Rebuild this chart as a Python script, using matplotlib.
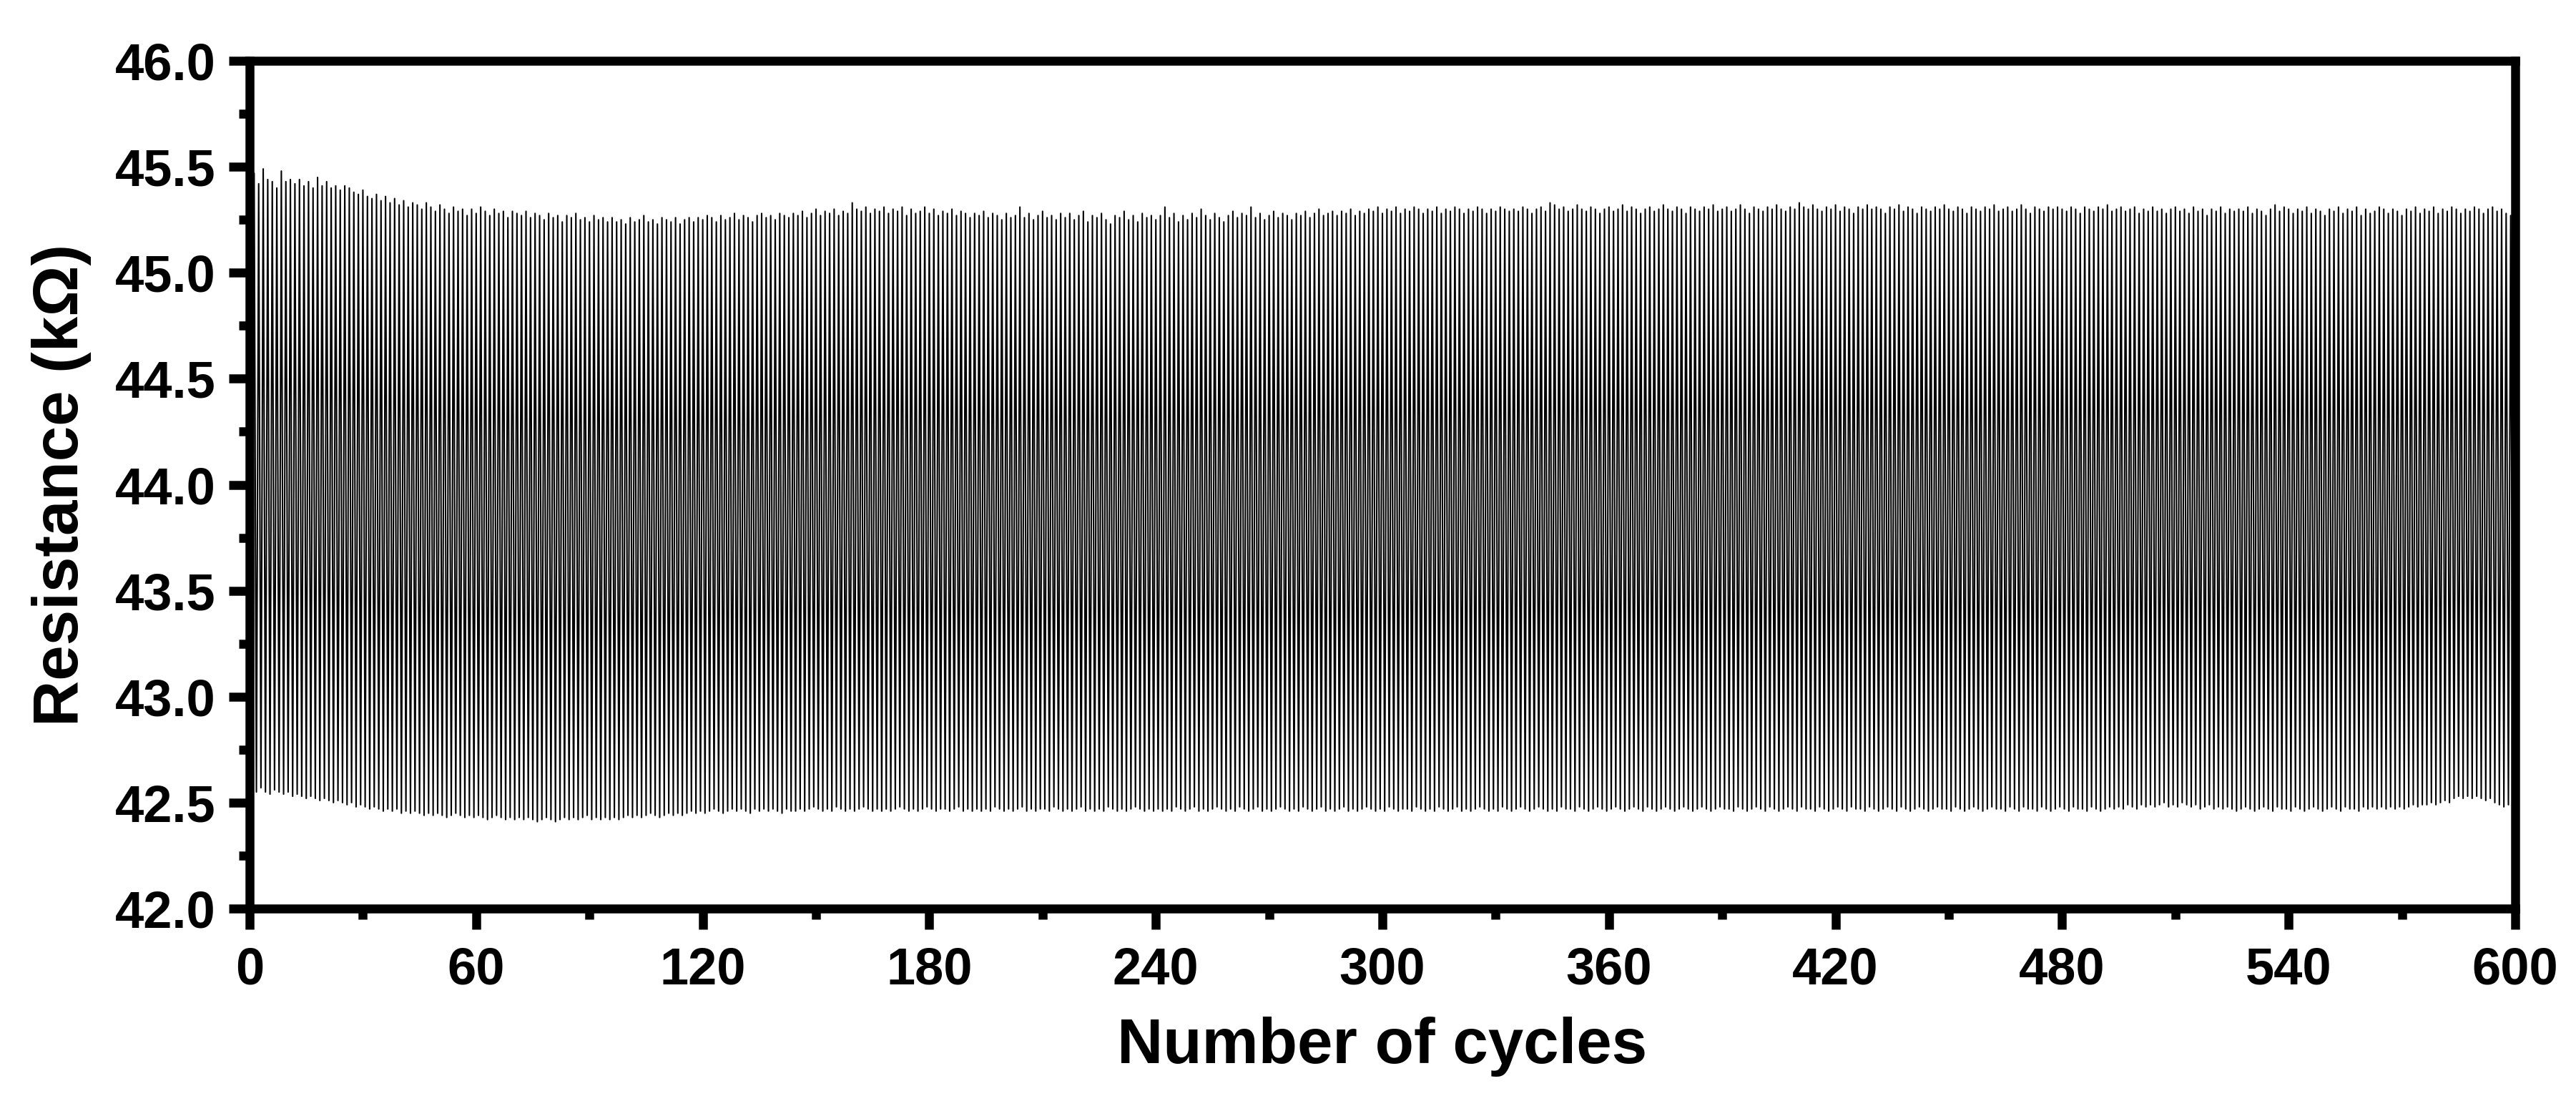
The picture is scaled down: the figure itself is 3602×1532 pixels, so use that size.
import numpy as np
import matplotlib
matplotlib.use("Agg")
import matplotlib.pyplot as plt
from matplotlib.ticker import MultipleLocator, FormatStrFormatter

# peak resistance of each cycle (kOhm), 20 cycles per row
peak_kohm = [
    45.34, 45.47, 45.42, 45.49, 45.44, 45.43, 45.40, 45.48, 45.43, 45.44, 45.42, 45.44, 45.41, 45.43, 45.40, 45.45, 45.41, 45.43, 45.40, 45.41,
    45.39, 45.41, 45.40, 45.38, 45.37, 45.39, 45.36, 45.35, 45.37, 45.34, 45.36, 45.33, 45.35, 45.32, 45.34, 45.31, 45.33, 45.32, 45.30, 45.33,
    45.31, 45.29, 45.32, 45.30, 45.28, 45.31, 45.29, 45.30, 45.27, 45.30, 45.28, 45.31, 45.29, 45.27, 45.30, 45.28, 45.29, 45.26, 45.29, 45.28,
    45.27, 45.29, 45.26, 45.28, 45.27, 45.25, 45.28, 45.26, 45.27, 45.24, 45.27, 45.26, 45.28, 45.25, 45.26, 45.24, 45.27, 45.25, 45.26, 45.24,
    45.26, 45.24, 45.25, 45.23, 45.26, 45.24, 45.25, 45.27, 45.24, 45.25, 45.23, 45.26, 45.25, 45.24, 45.26, 45.23, 45.25, 45.26, 45.24, 45.26,
    45.25, 45.27, 45.26, 45.24, 45.27, 45.25, 45.26, 45.28, 45.25, 45.27, 45.26, 45.24, 45.27, 45.28, 45.26, 45.27, 45.25, 45.28, 45.27, 45.26,
    45.28, 45.27, 45.29, 45.26, 45.28, 45.30, 45.27, 45.29, 45.28, 45.30, 45.27, 45.29, 45.28, 45.33, 45.30, 45.29, 45.31, 45.28, 45.30, 45.29,
    45.31, 45.28, 45.30, 45.29, 45.31, 45.27, 45.30, 45.28, 45.29, 45.31, 45.28, 45.30, 45.27, 45.29, 45.28, 45.30, 45.27, 45.29, 45.28, 45.26,
    45.28, 45.27, 45.29, 45.26, 45.28, 45.27, 45.25, 45.28, 45.26, 45.27, 45.31, 45.26, 45.28, 45.25, 45.27, 45.29, 45.26, 45.27, 45.25, 45.28,
    45.26, 45.28, 45.25, 45.27, 45.29, 45.24, 45.27, 45.26, 45.28, 45.25, 45.23, 45.27, 45.26, 45.29, 45.25, 45.27, 45.24, 45.28, 45.26, 45.27,
    45.25, 45.27, 45.31, 45.26, 45.28, 45.24, 45.27, 45.25, 45.28, 45.26, 45.30, 45.27, 45.25, 45.28, 45.26, 45.24, 45.27, 45.29, 45.26, 45.28,
    45.27, 45.31, 45.26, 45.28, 45.25, 45.27, 45.29, 45.26, 45.28, 45.27, 45.25, 45.28, 45.27, 45.29, 45.26, 45.28, 45.30, 45.27, 45.28, 45.29,
    45.27, 45.29, 45.28, 45.30, 45.27, 45.29, 45.28, 45.30, 45.29, 45.31, 45.28, 45.30, 45.29, 45.31, 45.28, 45.30, 45.29, 45.31, 45.30, 45.28,
    45.30, 45.29, 45.31, 45.28, 45.30, 45.29, 45.31, 45.30, 45.28, 45.30, 45.29, 45.31, 45.30, 45.28, 45.30, 45.29, 45.31, 45.30, 45.29, 45.30,
    45.29, 45.31, 45.30, 45.28, 45.30, 45.31, 45.29, 45.33, 45.32, 45.30, 45.31, 45.29, 45.30, 45.32, 45.30, 45.29, 45.31, 45.30, 45.28, 45.30,
    45.31, 45.29, 45.30, 45.32, 45.29, 45.31, 45.30, 45.28, 45.30, 45.31, 45.29, 45.30, 45.32, 45.30, 45.29, 45.31, 45.30, 45.28, 45.31, 45.30,
    45.29, 45.31, 45.30, 45.32, 45.29, 45.30, 45.31, 45.29, 45.30, 45.32, 45.30, 45.28, 45.31, 45.30, 45.29, 45.31, 45.30, 45.32, 45.30, 45.29,
    45.31, 45.30, 45.33, 45.31, 45.30, 45.32, 45.30, 45.29, 45.31, 45.30, 45.32, 45.29, 45.31, 45.30, 45.28, 45.31, 45.30, 45.32, 45.30, 45.31,
    45.30, 45.28, 45.31, 45.30, 45.32, 45.29, 45.31, 45.30, 45.28, 45.31, 45.30, 45.29, 45.31, 45.30, 45.32, 45.30, 45.29, 45.31, 45.30, 45.28,
    45.31, 45.30, 45.29, 45.31, 45.30, 45.32, 45.29, 45.30, 45.31, 45.29, 45.30, 45.32, 45.30, 45.28, 45.31, 45.30, 45.29, 45.31, 45.30, 45.31,
    45.30, 45.29, 45.31, 45.30, 45.28, 45.31, 45.30, 45.29, 45.31, 45.30, 45.32, 45.29, 45.30, 45.31, 45.29, 45.30, 45.31, 45.28, 45.30, 45.29,
    45.31, 45.29, 45.30, 45.28, 45.30, 45.31, 45.29, 45.30, 45.28, 45.31, 45.29, 45.30, 45.27, 45.30, 45.29, 45.31, 45.28, 45.30, 45.29, 45.30,
    45.29, 45.31, 45.28, 45.30, 45.29, 45.27, 45.30, 45.32, 45.29, 45.31, 45.30, 45.28, 45.30, 45.29, 45.31, 45.28, 45.30, 45.29, 45.27, 45.30,
    45.29, 45.31, 45.28, 45.30, 45.29, 45.31, 45.27, 45.30, 45.28, 45.29, 45.31, 45.30, 45.28, 45.30, 45.29, 45.27, 45.30, 45.29, 45.31, 45.28,
    45.30, 45.29, 45.31, 45.28, 45.30, 45.29, 45.31, 45.30, 45.28, 45.30, 45.29, 45.31, 45.30, 45.28, 45.30, 45.31, 45.29, 45.30, 45.28, 45.27,
]

# valley resistance of each cycle (kOhm), 20 cycles per row
valley_kohm = [
    42.56, 42.55, 42.57, 42.55, 42.54, 42.56, 42.55, 42.54, 42.55, 42.53, 42.54, 42.53, 42.52, 42.53, 42.52, 42.51, 42.52, 42.51, 42.50, 42.51,
    42.50, 42.49, 42.50, 42.48, 42.49, 42.48, 42.47, 42.48, 42.47, 42.46, 42.47, 42.46, 42.47, 42.45, 42.46, 42.45, 42.46, 42.45, 42.44, 42.45,
    42.44, 42.45, 42.44, 42.43, 42.44, 42.45, 42.44, 42.43, 42.44, 42.43, 42.44, 42.43, 42.42, 42.43, 42.44, 42.43, 42.42, 42.43, 42.42, 42.43,
    42.42, 42.43, 42.42, 42.41, 42.42, 42.43, 42.42, 42.41, 42.42, 42.43, 42.42, 42.43, 42.42, 42.43, 42.44, 42.42, 42.43, 42.42, 42.43, 42.42,
    42.43, 42.42, 42.43, 42.44, 42.43, 42.44, 42.43, 42.44, 42.45, 42.44, 42.43, 42.44, 42.45, 42.44, 42.45, 42.44, 42.45, 42.46, 42.45, 42.46,
    42.45, 42.46, 42.47, 42.46, 42.45, 42.46, 42.47, 42.46, 42.47, 42.46, 42.45, 42.47, 42.46, 42.47, 42.46, 42.47, 42.46, 42.45, 42.47, 42.46,
    42.46, 42.47, 42.46, 42.47, 42.48, 42.47, 42.46, 42.47, 42.46, 42.48, 42.47, 42.46, 42.47, 42.46, 42.47, 42.48, 42.47, 42.46, 42.47, 42.46,
    42.47, 42.46, 42.47, 42.48, 42.47, 42.46, 42.47, 42.46, 42.47, 42.48, 42.47, 42.46, 42.47, 42.47, 42.46, 42.47, 42.48, 42.46, 42.47, 42.46,
    42.47, 42.46, 42.47, 42.46, 42.48, 42.47, 42.46, 42.47, 42.46, 42.47, 42.48, 42.46, 42.47, 42.46, 42.47, 42.47, 42.46, 42.48, 42.47, 42.46,
    42.47, 42.46, 42.47, 42.48, 42.46, 42.47, 42.46, 42.47, 42.46, 42.48, 42.47, 42.46, 42.47, 42.46, 42.47, 42.48, 42.47, 42.46, 42.47, 42.46,
    42.47, 42.46, 42.47, 42.46, 42.48, 42.47, 42.46, 42.47, 42.48, 42.46, 42.47, 42.46, 42.47, 42.48, 42.47, 42.46, 42.47, 42.46, 42.48, 42.47,
    42.46, 42.47, 42.48, 42.46, 42.47, 42.46, 42.47, 42.48, 42.47, 42.46, 42.47, 42.46, 42.48, 42.47, 42.46, 42.47, 42.48, 42.46, 42.47, 42.46,
    42.47, 42.48, 42.46, 42.47, 42.46, 42.47, 42.48, 42.47, 42.46, 42.47, 42.46, 42.48, 42.47, 42.46, 42.47, 42.47, 42.46, 42.48, 42.47, 42.46,
    42.47, 42.46, 42.48, 42.47, 42.46, 42.47, 42.48, 42.46, 42.47, 42.46, 42.47, 42.48, 42.47, 42.46, 42.47, 42.46, 42.48, 42.47, 42.46, 42.47,
    42.48, 42.47, 42.46, 42.47, 42.48, 42.47, 42.46, 42.47, 42.46, 42.48, 42.47, 42.47, 42.46, 42.48, 42.47, 42.46, 42.47, 42.48, 42.47, 42.46,
    42.47, 42.48, 42.47, 42.46, 42.47, 42.48, 42.47, 42.46, 42.48, 42.47, 42.46, 42.47, 42.48, 42.47, 42.46, 42.47, 42.48, 42.47, 42.46, 42.47,
    42.48, 42.47, 42.46, 42.47, 42.48, 42.47, 42.47, 42.46, 42.48, 42.47, 42.46, 42.47, 42.48, 42.47, 42.46, 42.48, 42.47, 42.46, 42.47, 42.48,
    42.47, 42.46, 42.48, 42.47, 42.47, 42.46, 42.48, 42.47, 42.46, 42.47, 42.48, 42.47, 42.46, 42.48, 42.47, 42.47, 42.46, 42.48, 42.47, 42.46,
    42.47, 42.48, 42.47, 42.46, 42.48, 42.47, 42.46, 42.47, 42.48, 42.47, 42.46, 42.47, 42.48, 42.47, 42.47, 42.46, 42.48, 42.47, 42.46, 42.47,
    42.48, 42.47, 42.46, 42.47, 42.48, 42.47, 42.47, 42.46, 42.48, 42.47, 42.46, 42.48, 42.47, 42.47, 42.46, 42.48, 42.47, 42.46, 42.47, 42.48,
    42.47, 42.46, 42.48, 42.47, 42.47, 42.46, 42.48, 42.47, 42.46, 42.47, 42.48, 42.47, 42.48, 42.47, 42.49, 42.48, 42.47, 42.49, 42.48, 42.49,
    42.48, 42.49, 42.50, 42.48, 42.49, 42.48, 42.50, 42.49, 42.48, 42.49, 42.47, 42.48, 42.49, 42.47, 42.48, 42.47, 42.48, 42.47, 42.46, 42.47,
    42.48, 42.47, 42.46, 42.47, 42.48, 42.47, 42.46, 42.48, 42.47, 42.47, 42.46, 42.48, 42.47, 42.46, 42.47, 42.48, 42.47, 42.46, 42.47, 42.48,
    42.47, 42.46, 42.48, 42.47, 42.47, 42.46, 42.48, 42.47, 42.48, 42.47, 42.48, 42.47, 42.48, 42.47, 42.48, 42.47, 42.48, 42.49, 42.48, 42.49,
    42.49, 42.50, 42.49, 42.50, 42.51, 42.50, 42.52, 42.53, 42.52, 42.53, 42.52, 42.53, 42.52, 42.51, 42.52, 42.50, 42.49, 42.48, 42.49, 42.48,
]

# one cycle spans 1.2 units of the cycle axis (about 500 oscillations over 0-600)
cycle_width = 1.2

x_ticks = [0, 60, 120, 180, 240, 300, 360, 420, 480, 540, 600]
y_ticks = [42.0, 42.5, 43.0, 43.5, 44.0, 44.5, 45.0, 45.5, 46.0]

plt.rcParams['font.family'] = ['Liberation Sans', 'DejaVu Sans']
plt.rcParams['font.weight'] = 'bold'


# interleave peak / valley points into one trace
def buildTrace(peaks, valleys, width):
    n = len(peaks)
    idx = np.arange(n)
    x = np.empty(2 * n)
    y = np.empty(2 * n)
    x[0::2] = idx * width
    x[1::2] = idx * width + width / 2
    y[0::2] = peaks
    y[1::2] = valleys
    return x, y


def draw():
    fig = plt.figure(figsize=(36.02, 15.32), dpi=100)
    ax = fig.add_axes([0.0969, 0.171, 0.8795, 0.7735])

    x, y = buildTrace(peak_kohm, valley_kohm, cycle_width)
    ax.plot(x, y, color='black', linewidth=1.5)

    ax.set_xlim(0, 600)
    ax.set_ylim(42.0, 46.0)
    ax.set_xticks(x_ticks)
    ax.set_yticks(y_ticks)
    ax.xaxis.set_minor_locator(MultipleLocator(30))
    ax.yaxis.set_minor_locator(MultipleLocator(0.25))
    ax.yaxis.set_major_formatter(FormatStrFormatter('%.1f'))

    for s in ax.spines.values():
        s.set_linewidth(9)
    ax.tick_params(which='major', direction='out', length=21, width=9,
                   labelsize=52)
    ax.tick_params(axis='x', which='major', pad=17)
    ax.tick_params(axis='y', which='major', pad=13)
    ax.tick_params(which='minor', direction='out', length=10.5, width=9)
    ax.tick_params(top=False, right=False, which='both')

    ax.set_xlabel('Number of cycles', fontsize=64, fontweight='bold', labelpad=22)
    ax.set_ylabel('Resistance (kΩ)', fontsize=64, fontweight='bold', labelpad=24)

    fig.savefig('out.png', dpi=100)


if __name__ == "__main__":
    draw()
